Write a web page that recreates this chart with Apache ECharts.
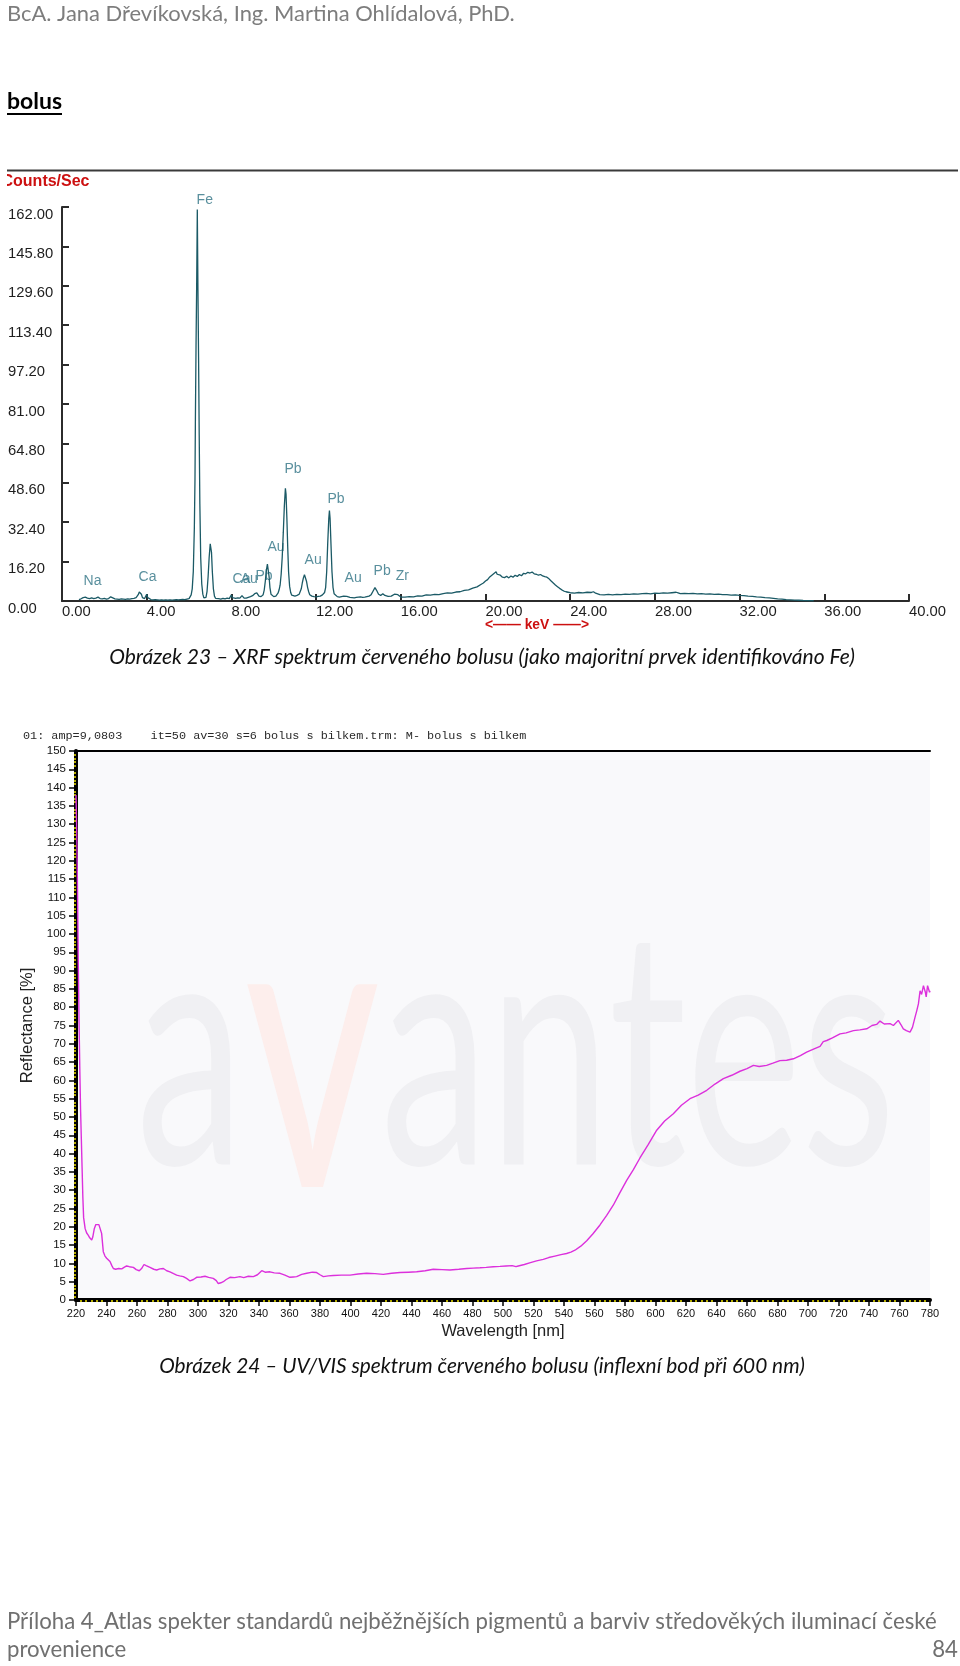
<!DOCTYPE html>
<html><head><meta charset="utf-8">
<script src="https://cdn.jsdelivr.net/npm/echarts@6/dist/echarts.min.js"></script>
<style>html,body{margin:0;padding:0;background:#fff}#c{width:960px;height:1666px}</style>
</head><body><div id="c"></div>
<script>
// ---------- XRF spectrum (keV / counts per second) ----------
const xrfEnergy = [0.80,0.90,1.00,1.05,1.10,1.20,1.30,1.40,1.50,1.60,1.70,1.80,1.90,2.00,2.10,2.20,2.30,2.40,2.50,2.60,2.70,2.80,2.90,3.00,3.10,3.20,3.30,3.40,3.50,3.60,3.65,3.70,3.75,3.80,3.90,3.95,4.00,4.05,4.10,4.20,4.30,4.40,4.50,4.60,4.70,4.80,4.90,5.00,5.10,5.20,5.30,5.40,5.50,5.60,5.70,5.80,5.90,6.00,6.05,6.10,6.15,6.20,6.25,6.28,6.30,6.33,6.36,6.39,6.42,6.45,6.48,6.51,6.55,6.60,6.65,6.70,6.75,6.80,6.85,6.90,6.95,7.00,7.03,7.06,7.10,7.15,7.20,7.25,7.30,7.40,7.50,7.60,7.70,7.80,7.90,7.95,8.00,8.05,8.10,8.20,8.30,8.40,8.45,8.50,8.55,8.60,8.70,8.80,8.90,9.00,9.10,9.15,9.20,9.25,9.30,9.40,9.50,9.55,9.60,9.65,9.70,9.74,9.78,9.82,9.87,9.92,10.00,10.05,10.10,10.15,10.20,10.25,10.30,10.35,10.40,10.45,10.50,10.55,10.58,10.62,10.66,10.70,10.75,10.80,10.85,10.90,11.00,11.10,11.20,11.25,11.30,11.35,11.40,11.45,11.50,11.55,11.60,11.65,11.70,11.80,11.90,11.95,12.00,12.10,12.20,12.30,12.40,12.45,12.50,12.55,12.60,12.63,12.66,12.70,12.75,12.80,12.85,12.90,13.00,13.10,13.20,13.30,13.37,13.45,13.60,13.70,13.80,13.90,14.00,14.10,14.20,14.30,14.40,14.50,14.60,14.70,14.78,14.85,14.95,15.05,15.15,15.25,15.40,15.55,15.70,15.78,15.86,16.00,16.20,16.40,16.60,16.80,17.00,17.20,17.40,17.60,17.80,18.00,18.20,18.40,18.60,18.80,19.00,19.20,19.40,19.60,19.80,19.90,20.00,20.10,20.20,20.30,20.40,20.50,20.55,20.60,20.70,20.80,20.85,20.90,21.00,21.10,21.20,21.30,21.40,21.50,21.60,21.70,21.80,21.90,22.00,22.05,22.10,22.20,22.30,22.40,22.50,22.60,22.70,22.80,22.90,23.00,23.10,23.20,23.30,23.40,23.50,23.60,23.70,23.80,23.90,24.00,24.20,24.40,24.60,24.80,25.00,25.10,25.20,25.40,25.60,25.80,26.00,26.20,26.40,26.60,26.80,27.00,27.20,27.40,27.60,27.80,28.00,28.20,28.40,28.60,28.80,29.00,29.10,29.20,29.40,29.60,29.80,30.00,30.20,30.40,30.60,30.80,31.00,31.20,31.40,31.60,31.80,32.00,32.20,32.40,32.60,32.80,33.00,33.20,33.40,33.60,33.80,34.00,34.20,34.40,34.60,34.80,35.00,35.50];
const xrfCounts = [0.6,0.9,1.4,1.9,1.6,1.2,1.0,1.3,1.0,1.2,1.6,1.0,0.9,1.1,0.8,1.0,1.7,1.3,0.9,0.8,0.7,0.9,0.8,0.7,0.9,0.8,1.0,1.1,1.4,2.6,3.7,3.9,2.8,1.4,1.0,1.3,2.8,1.4,0.7,0.6,0.5,0.6,0.5,0.4,0.5,0.4,0.5,0.4,0.5,0.4,0.5,0.6,0.5,0.6,0.7,0.6,0.8,1.0,1.5,2.5,5,12,30,50,75,105,130,161,128,100,68,40,18,7,2.8,1.3,1.0,1.5,4,10,18,23.5,24.2,20,12,5,2,1.1,0.9,1.0,0.8,1.1,0.9,1.2,1.0,1.6,2.5,1.4,1.0,1.1,1.3,1.2,1.9,2.2,1.5,1.2,1.2,1.5,1.8,2.2,3.0,3.6,3.3,2.6,2.0,1.8,2.6,4.5,8,12.5,15.2,14.5,10,5.5,2.8,2.0,1.8,1.7,2.0,2.6,3.2,4.5,6.5,11,18,28,39,46.3,44,34,22,12,6,3.5,2.4,2.0,2.0,2.3,2.8,3.5,5,7.5,9.5,10.8,10,8,5.5,3.8,2.6,2.0,1.8,2.6,1.7,1.9,2.0,2.5,3.5,5.5,12,24,34,37.2,34,24,12,5.5,3,2.2,1.8,1.6,1.8,2.0,2.6,1.9,1.5,1.4,1.3,1.5,1.6,1.7,1.5,1.6,1.8,2.0,2.6,4.2,5.5,4.5,2.8,2.3,3.0,2.3,1.9,2.0,2.8,3.4,2.6,1.6,1.6,1.8,1.7,2.1,2.0,2.5,2.4,2.7,2.6,3.0,3.3,3.2,3.7,3.8,4.4,4.6,5.3,5.8,6.9,7.4,8.2,8.8,9.9,10.6,11.3,12.0,11.0,11.6,10.6,9.8,10.4,9.6,10.2,9.5,10.3,9.8,10.6,10.1,10.9,10.4,11.4,11.2,11.8,12.4,11.5,11.9,11.2,11.0,10.6,10.9,10.3,10.0,9.8,9.1,8.2,7.4,6.6,5.9,5.2,4.6,4.1,3.8,3.6,3.4,3.2,3.5,3.3,3.6,3.5,3.8,3.2,2.6,2.5,2.7,2.5,2.7,2.6,2.8,2.7,2.9,2.8,3.0,3.1,2.9,3.2,3.1,3.3,3.2,3.4,3.6,3.3,3.0,3.1,3.0,3.1,2.9,3.0,2.8,2.9,2.7,2.8,2.6,2.6,2.4,2.5,2.3,2.2,2.0,1.9,1.7,1.6,1.4,1.3,1.1,0.9,0.8,0.6,0.5,0.4,0.3,0.2,0.1];
const xrfXTicks = [0,4,8,12,16,20,24,28,32,36,40];
const xrfYTicks = [0,16.2,32.4,48.6,64.8,81,97.2,113.4,129.6,145.8,162];
// element annotations (anchor point of each label, keV / counts)
const elemNames  = ['Na','Ca','Fe','Ca','Au','Pb','Au','Pb','Au','Pb','Au','Pb','Zr'];
const elemKeV    = [1.04,3.64,6.38,8.08,8.46,9.16,9.73,10.53,11.48,12.56,13.37,14.74,15.78];
const elemCounts = [7.8,9.5,164.5,8.6,8.6,9.9,21.8,53.9,16.4,41.5,9.0,11.9,9.9];

// ---------- UV/VIS reflectance spectrum ----------
const uvWavelength = [220,220.5,221,221.5,222,222.5,223,223.5,224,224.5,225,226,227,228,229,230.3,231,232,233,234,235,235.7,236.8,237.9,239,240.1,241,242.3,243.5,244.5,246,248,250,251.5,253.2,255,257.6,259.5,261.5,263,264.6,266,268.5,271,272.9,275,277.3,279.5,281.6,284,286,288,290.4,292.5,294.8,297,299.1,302,304.6,307,310,312,313.3,315,316.6,318.5,321,324,327.5,330,333,336.3,339,341.8,344,347.2,350,353.8,357,360.3,362.5,364.7,368,371.3,375,377.8,380,382.2,385.5,388.7,394,399.7,405,410.6,416,421.5,427,432.5,438,443.4,449,454.3,460,465.2,471,476.2,480.5,484.9,489,493.6,498,502,506,508.5,510,514,518,522,526.4,530,534,538,541.7,544.5,547.2,551,554.9,559,563.6,568,572.3,576.5,581.1,585.5,589.8,595.3,600.8,606,611.7,617,622.6,628,633.6,639,644.5,650,655.4,660,664.2,668,672.9,677,681.6,686,690.4,695,699.1,704,707.9,710,712.3,716,721,725,729.8,734,738.5,742,745,747.2,750,753.8,756,759.2,761,762.5,764.5,766.9,768.5,770.2,771.3,772.4,773.5,774.5,775.7,777,777.5,778.4,779.7,780];
const uvReflectance = [138,128,112,92,76,63,52,44,36,28,22.5,19.5,18.3,17.7,17.0,16.4,17.2,19.5,20.6,21.0,20.6,21.0,18.2,13.2,12.0,11.4,11.3,10.5,9.4,8.6,8.4,8.6,8.5,8.9,9.3,9.1,8.9,8.3,8.0,8.6,9.7,9.4,8.9,8.4,8.2,8.5,8.6,8.0,7.7,7.2,6.8,6.6,6.4,5.9,5.2,5.6,6.2,6.3,6.5,6.2,5.9,5.3,4.5,4.7,5.0,5.6,6.2,6.1,6.4,6.1,6.5,6.4,6.9,8.0,7.6,7.7,7.4,7.3,6.8,6.2,6.3,6.4,7.0,7.3,7.6,7.5,6.9,6.4,6.6,6.7,6.8,6.8,7.1,7.3,7.2,7.0,7.3,7.5,7.6,7.7,8.0,8.4,8.3,8.2,8.4,8.6,8.7,8.8,8.9,9.1,9.2,9.3,9.4,9.1,9.3,9.7,10.2,10.7,11.1,11.6,12.0,12.4,12.7,13.1,13.6,14.7,16.2,18.1,20.5,23.1,25.9,29.2,32.7,35.6,38.8,42.5,46.4,48.9,50.9,53.2,55.0,56.0,57.3,59.0,60.5,61.4,62.5,63.2,64.1,63.8,64.1,64.7,65.4,65.5,65.9,66.8,67.7,68.6,69.3,70.6,70.9,71.6,72.7,73.0,73.6,73.8,74.1,75.0,75.3,76.2,75.4,75.5,75.0,76.4,75.2,74.1,73.6,73.2,74.5,77.3,79.0,80.9,84.5,83.5,85.9,84.0,82.8,85.9,84.1,84.5];
const uvXTicks = [220,240,260,280,300,320,340,360,380,400,420,440,460,480,500,520,540,560,580,600,620,640,660,680,700,720,740,760,780];
const uvYTicks = [0,5,10,15,20,25,30,35,40,45,50,55,60,65,70,75,80,85,90,95,100,105,110,115,120,125,130,135,140,145,150];

// ---------- texts ----------
const headerText = 'BcA. Jana Dřevíkovská, Ing. Martina Ohlídalová, PhD.';
const sectionTitle = 'bolus';
const xrfYName = 'Counts/Sec';
const xrfXName = '<—— keV ——>';
const caption1 = 'Obrázek 23 – XRF spektrum červeného bolusu (jako majoritní prvek identifikováno Fe)';
const uvHeader = '01: amp=9,0803    it=50 av=30 s=6 bolus s bilkem.trm: M- bolus s bilkem';
const uvXName = 'Wavelength [nm]';
const uvYName = 'Reflectance [%]';
const caption2 = 'Obrázek 24 – UV/VIS spektrum červeného bolusu (inflexní bod při 600 nm)';
const footer1 = 'Příloha 4_Atlas spekter standardů nejběžnějších pigmentů a barviv středověkých iluminací české';
const footer2 = 'provenience';
const pageNo = '84';

const mctx = document.createElement('canvas').getContext('2d');
function fit(text, family, weight, style, targetW, base) {
  mctx.font = style + ' ' + weight + ' ' + base + 'px ' + family;
  return base * targetW / mctx.measureText(text).width;
}
const LATO = 'Lato, "Open Sans", sans-serif';
const ARIAL = '"Liberation Sans", Arial, sans-serif';
const hdrSize = fit(headerText, 'Lato', 'normal', 'normal', 508, 20);
const boldSize = fit(sectionTitle, 'Lato', 'bold', 'normal', 55, 20);
const cap1Size = fit(caption1, 'Lato', 'normal', 'italic', 746, 19);
const cap2Size = fit(caption2, 'Lato', 'normal', 'italic', 646, 19);
const ftSize = fit(footer1, 'Lato', 'normal', 'normal', 930, 20);
const monoSize = fit(uvHeader, '"Liberation Mono"', 'normal', 'normal', 504, 12);
const kevSize = fit(xrfXName, '"Liberation Sans"', 'bold', 'normal', 104, 13);

function txt(x, y, text, font, fill, align, extra) {
  return Object.assign({type: 'text', x: x, y: y, silent: true, z: 10,
    style: {text: text, font: font, fill: fill, align: align || 'left', verticalAlign: 'middle'}}, extra || {});
}

const chart = echarts.init(document.getElementById('c'), null, {renderer: 'canvas', width: 960, height: 1666});
const axisDark = '#2b2b2b';
chart.setOption({
  animation: false,
  backgroundColor: '#ffffff',
  grid: [
    {left: 62, top: 207, width: 847, height: 394},
    {left: 76, top: 751, width: 854, height: 549, show: true, backgroundColor: '#f9f9fb', borderWidth: 0, z: 0}
  ],
  xAxis: [
    {gridIndex: 0, type: 'value', min: xrfXTicks[0], max: xrfXTicks[xrfXTicks.length - 1], interval: xrfXTicks[1] - xrfXTicks[0],
     axisLine: {show: true, lineStyle: {color: axisDark, width: 2}},
     axisTick: {show: true, inside: true, length: 7, lineStyle: {color: axisDark, width: 2}},
     axisLabel: {align: 'left', margin: 3, fontFamily: ARIAL, fontSize: 14.8, color: '#1e1e1e', formatter: v => v.toFixed(2)},
     splitLine: {show: false}},
    {gridIndex: 1, type: 'value', min: uvXTicks[0], max: uvXTicks[uvXTicks.length - 1], interval: uvXTicks[1] - uvXTicks[0],
     axisLine: {show: true, lineStyle: {color: '#000', width: 4}},
     axisTick: {show: true, length: 6, lineStyle: {color: '#000', width: 1.5}},
     minorTick: {show: true, splitNumber: 6, length: 2, lineStyle: {color: '#f0e400', width: 1.5}},
     axisLabel: {margin: 8, fontFamily: ARIAL, fontSize: 11, color: '#111'},
     name: uvXName, nameLocation: 'middle', nameGap: 23,
     nameTextStyle: {fontFamily: ARIAL, fontSize: 16.5, color: '#222'},
     splitLine: {show: false}},
    {gridIndex: 1, type: 'value', position: 'top', min: uvXTicks[0], max: uvXTicks[uvXTicks.length - 1],
     axisLine: {show: true, onZero: false, lineStyle: {color: '#000', width: 2}},
     axisTick: {show: false}, axisLabel: {show: false}, splitLine: {show: false}}
  ],
  yAxis: [
    {gridIndex: 0, type: 'value', min: xrfYTicks[0], max: xrfYTicks[xrfYTicks.length - 1], interval: xrfYTicks[1] - xrfYTicks[0],
     axisLine: {show: true, lineStyle: {color: axisDark, width: 2}},
     axisTick: {show: true, inside: true, length: 7, lineStyle: {color: axisDark, width: 2}},
     axisLabel: {align: 'left', verticalAlign: 'top', margin: 54, fontFamily: ARIAL, fontSize: 14.8, color: '#1e1e1e',
                 showMinLabel: true, showMaxLabel: true, formatter: v => v.toFixed(2)},
     splitLine: {show: false}},
    {gridIndex: 1, type: 'value', min: uvYTicks[0], max: uvYTicks[uvYTicks.length - 1], interval: uvYTicks[1] - uvYTicks[0],
     axisLine: {show: true, lineStyle: {color: '#000', width: 4}},
     axisTick: {show: true, length: 7, lineStyle: {color: '#000', width: 1.5}},
     minorTick: {show: true, splitNumber: 5, length: 2, lineStyle: {color: '#f0e400', width: 1.5}},
     axisLabel: {margin: 10, fontFamily: ARIAL, fontSize: 11.5, color: '#111', showMinLabel: true, showMaxLabel: true},
     name: uvYName, nameLocation: 'middle', nameGap: 30, nameRotate: 90,
     nameTextStyle: {fontFamily: ARIAL, fontSize: 16.5, color: '#222'},
     splitLine: {show: false}}
  ],
  series: [
    {type: 'line', xAxisIndex: 0, yAxisIndex: 0, data: xrfEnergy.map((e, i) => [e, xrfCounts[i]]),
     symbol: 'none', lineStyle: {color: '#1b5a66', width: 1.3}, z: 3},
    {type: 'scatter', xAxisIndex: 0, yAxisIndex: 0, clip: false, silent: true,
     data: elemNames.map((n, i) => ({name: n, value: [elemKeV[i], elemCounts[i]]})),
     symbolSize: 1, itemStyle: {color: 'rgba(0,0,0,0)'},
     label: {show: true, position: [0, 0], align: 'left', verticalAlign: 'middle', formatter: '{b}',
             color: '#2f7385', fontSize: 14, fontFamily: ARIAL}},
    {type: 'line', xAxisIndex: 1, yAxisIndex: 1, data: uvWavelength.map((w, i) => [w, uvReflectance[i]]),
     symbol: 'none', lineStyle: {color: '#dc30dc', width: 1.4}, z: 3}
  ],
  graphic: {elements: [
    {type: 'text', x: 136, y: 1058, z: 1, silent: true, scaleX: 0.66, scaleY: 1,
     style: {text: '{g|a}{r|v}{g|antes}', verticalAlign: 'middle', align: 'left',
             rich: {g: {fontFamily: 'Lato', fontSize: 330, fill: '#f0f0f3', color: '#f0f0f3'},
                    r: {fontFamily: 'Lato', fontSize: 400, fill: '#fdeeec', color: '#fdeeec'}}}},
    txt(7, 14, headerText, 'normal ' + hdrSize + 'px ' + LATO, '#7d7d7d'),
    txt(7, 102, sectionTitle, 'bold ' + boldSize + 'px ' + LATO, '#000'),
    {type: 'line', z: 10, silent: true, shape: {x1: 7, y1: 114, x2: 62, y2: 114}, style: {stroke: '#000', lineWidth: 2}},
    {type: 'line', z: 10, silent: true, shape: {x1: 7, y1: 170.5, x2: 958, y2: 170.5}, style: {stroke: '#3a3a3a', lineWidth: 2}},
    txt(1.5, 182, xrfYName, 'bold 16px ' + ARIAL, '#cc1010'),
    {type: 'rect', z: 11, silent: true, shape: {x: 0, y: 172, width: 7, height: 20}, style: {fill: '#fff'}},
    txt(485, 625, xrfXName, 'bold ' + kevSize + 'px ' + ARIAL, '#cc1010'),
    txt(482, 657, caption1, 'italic ' + cap1Size + 'px ' + LATO, '#111', 'center'),
    txt(23, 736, uvHeader, 'normal ' + monoSize + 'px "Liberation Mono", monospace', '#2a2a2a'),
    txt(482, 1366, caption2, 'italic ' + cap2Size + 'px ' + LATO, '#111', 'center'),
    txt(7, 1622, footer1, 'normal ' + ftSize + 'px ' + LATO, '#707070'),
    txt(7, 1650, footer2, 'normal ' + ftSize + 'px ' + LATO, '#707070'),
    txt(958, 1650, pageNo, 'normal ' + ftSize + 'px ' + LATO, '#707070', 'right')
  ]}
});
</script>
</body></html>
